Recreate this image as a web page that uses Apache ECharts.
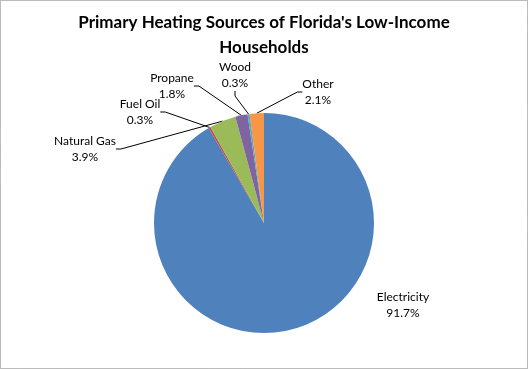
<!DOCTYPE html>
<html><head><meta charset="utf-8">
<script src="https://cdn.jsdelivr.net/npm/echarts@6/dist/echarts.min.js"></script>
<style>html,body{margin:0;padding:0;background:#fff}#c{width:528px;height:369px}</style>
</head><body><div id="c"></div>
<script>
const categories = ['Electricity', 'Fuel Oil', 'Natural Gas', 'Propane', 'Wood', 'Other'];
const values = [91.7, 0.3, 3.9, 1.8, 0.3, 2.1];
const colors = ['#4F81BD', '#C0504D', '#9BBB59', '#8064A2', '#4BACC6', '#F79646'];
const titleText = "Primary Heating Sources of Florida's Low-Income\nHouseholds";

// label block centres (layout)
const labelPos = {
  'Electricity': [403, 305],
  'Fuel Oil': [140, 112],
  'Natural Gas': [85, 149],
  'Propane': [172, 86],
  'Wood': [235, 75],
  'Other': [318, 92]
};

const chart = echarts.init(document.getElementById('c'), null, {renderer: 'canvas'});
const font = 'Lato, "Open Sans", sans-serif';
chart.setOption({
  animation: false,
  title: {
    text: titleText, left: 'center', top: 5,
    textStyle: {fontFamily: font, fontSize: 17, fontWeight: 'bold', color: '#000', lineHeight: 25}
  },
  graphic: [{
    type: 'rect', shape: {x: 0.5, y: 0.5, width: 527, height: 368},
    style: {fill: 'none', stroke: '#777', lineWidth: 1, lineDash: [1, 1]}, silent: true, z: 100
  }],
  series: [{
    type: 'pie',
    center: [264, 223],
    radius: 110,
    startAngle: 90,
    clockwise: true,
    avoidLabelOverlap: false,
    itemStyle: {borderWidth: 0},
    label: {
      show: true, formatter: '{b}\n{c}%', color: '#000',
      fontFamily: font, fontSize: 12, lineHeight: 16, align: 'center'
    },
    labelLine: {show: true, lineStyle: {color: '#000', width: 1}, length: 10, length2: 5},
    labelLayout: function (p) {
      const pos = labelPos[categories[p.dataIndex]];
      return {x: pos[0], y: pos[1], align: 'center', verticalAlign: 'middle'};
    },
    data: categories.map((n, i) => ({name: n, value: values[i], itemStyle: {color: colors[i]},
      labelLine: {show: n !== 'Electricity'}}))
  }]
});
</script></body></html>
